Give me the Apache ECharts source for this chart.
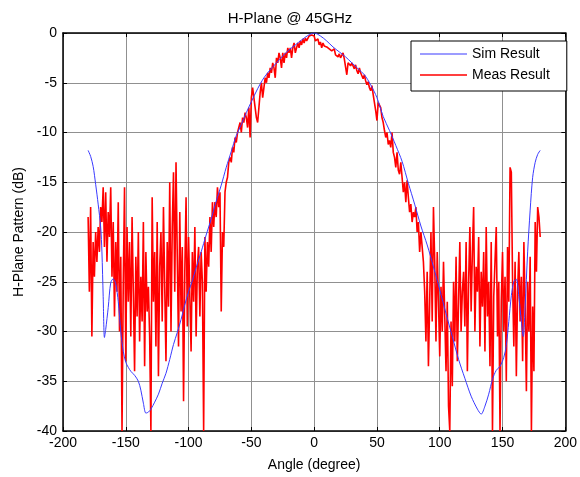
<!DOCTYPE html>
<html>
<head>
<meta charset="utf-8">
<script src="https://cdn.jsdelivr.net/npm/echarts@6/dist/echarts.min.js"></script>
<style>
html,body{margin:0;padding:0;background:#fff;}
#chart{width:580px;height:477px;}
</style>
</head>
<body>
<div id="chart"></div>
<script>
// ---- Data ----
var titleText = 'H-Plane @ 45GHz';
var xName = 'Angle (degree)';
var yName = 'H-Plane Pattern (dB)';
var xTicks = [-200, -150, -100, -50, 0, 50, 100, 150, 200];
var yTicks = [-40, -35, -30, -25, -20, -15, -10, -5, 0];

// Simulated result (angle, dB)
var simAngles = [-180,-178,-176,-174,-172,-170,-169,-168,-167,-166,-164,-162,-160,-158,-156,-154,-152,-150,-148,-146,-143,-140,-138,-136,-134,-132,-130,-127,-124,-121,-118,-115,-112,-109,-106,-103,-100,-97,-94,-90,-86,-82,-78,-74,-70,-66,-62,-58,-54,-50,-45,-40,-35,-30,-25,-20,-15,-10,-5,0,5,10,15,20,25,30,35,40,45,50,55,60,65,70,75,80,85,90,95,100,105,110,115,120,125,130,133,136,139,142,145,148,151,153,155,157,159,161,163,165,166.5,168,170,172,174,176,178,180];
var simValues = [-11.8,-12.4,-13.4,-15.2,-17.2,-19.5,-22,-26.5,-30.6,-29.8,-27.6,-25.1,-24.7,-25.2,-27,-30,-32,-33.1,-33.6,-34,-34.4,-35,-35.9,-37.2,-38.2,-38.1,-37.8,-37.1,-36.3,-35.2,-34.2,-32.8,-31.3,-30.1,-28.8,-27.3,-26,-24.9,-23.6,-22,-20.3,-18.7,-16.9,-15.3,-13.5,-11.9,-10.3,-9.2,-8,-6.9,-5.6,-4.5,-3.7,-3,-2.3,-1.7,-1.2,-0.7,-0.25,0,-0.3,-0.8,-1.4,-1.9,-2.4,-3,-3.6,-4.2,-5.2,-6.5,-8.4,-9.8,-11.3,-12.9,-15.1,-17.2,-19.4,-21.3,-23.5,-25.8,-28.2,-30.5,-32.8,-34.7,-36.5,-37.8,-38.3,-37.5,-36.3,-34.8,-33.9,-33.5,-32.6,-31.4,-29,-26.4,-25,-24.75,-26.5,-29,-30.5,-27.5,-22,-17.8,-14.5,-13,-12.2,-11.8];

// Measured result: one value per degree from -180 to 180
var measStart = -180;
var measValues = [
-18.5,-26.0,-17.5,-30.5,-21.0,-24.5,-20.0,-23.0,-19.5,-22.0,
-17.5,-19.0,-15.5,-21.5,-16.0,-23.0,-18.0,-20.5,-15.5,-24.5,
-19.0,-28.5,-21.0,-26.0,-17.0,-30.0,-22.5,-40.0,-25.0,-15.5,
-33.0,-19.5,-27.0,-21.0,-30.5,-18.5,-26.0,-34.0,-22.5,-28.5,
-20.0,-31.0,-24.5,-29.0,-19.0,-33.5,-22.0,-28.0,-25.5,-30.5,
-40.0,-16.5,-27.0,-22.0,-31.5,-19.0,-34.5,-23.5,-20.0,-29.0,
-17.5,-25.5,-33.0,-21.0,-27.5,-15.0,-30.0,-19.5,-14.0,-26.0,
-13.0,-22.5,-31.5,-18.0,-28.0,-21.5,-37.0,-24.0,-16.5,-29.5,
-20.5,-26.5,-32.0,-22.0,-27.0,-19.5,-30.5,-23.5,-21.5,-28.5,
-22.0,-25.0,-40.0,-20.5,-26.0,-21.0,-23.5,-18.5,-22.0,-17.0,
-19.5,-17.0,-18.5,-15.5,-17.5,-16.0,-28.0,-20.0,-21.5,-16.0,
-15.0,-14.5,-13.0,-12.5,-13.0,-11.5,-12.0,-10.5,-11.0,-10.0,
-9.5,-9.0,-10.0,-8.5,-9.0,-8.0,-8.5,-9.5,-7.5,-10.5,
-6.5,-5.5,-6.5,-7.5,-8.5,-9.0,-7.5,-6.0,-5.0,-6.5,
-5.5,-4.5,-5.0,-4.0,-4.5,-3.5,-4.0,-3.0,-3.5,-4.5,
-2.5,-3.0,-2.0,-2.5,-3.5,-2.0,-3.0,-2.0,-2.5,-1.5,
-2.0,-1.5,-2.5,-1.5,-1.0,-2.0,-1.5,-1.0,-1.5,-0.8,
-1.2,-0.6,-1.0,-0.5,-0.8,-1.0,-0.3,-0.5,-0.2,0.0,
-0.3,-0.8,-1.0,-0.6,-1.2,-0.9,-1.5,-1.0,-1.3,-1.1,
-1.4,-1.2,-1.6,-1.4,-1.8,-2.0,-1.6,-2.2,-2.0,-2.4,
-2.1,-2.5,-2.3,-2.0,-2.6,-2.8,-4.2,-3.0,-2.9,-3.3,
-3.0,-3.3,-3.6,-3.2,-3.8,-4.1,-3.5,-4.0,-4.3,-4.6,
-4.2,-4.8,-5.2,-4.9,-5.5,-5.8,-5.3,-6.2,-6.0,-7.8,
-8.8,-7.0,-6.8,-7.5,-8.5,-9.0,-9.8,-10.5,-10.0,-11.2,
-10.8,-11.5,-10.0,-12.0,-12.5,-13.5,-12.0,-13.8,-14.2,-13.0,
-14.5,-16.0,-15.0,-17.0,-14.8,-16.5,-18.0,-17.2,-19.0,-18.0,
-18.5,-17.5,-20.0,-19.0,-22.0,-20.0,-21.5,-23.0,-26.0,-31.0,
-24.0,-33.5,-27.0,-20.0,-29.0,-17.5,-23.0,-31.0,-22.0,-27.0,
-32.5,-25.5,-30.0,-23.0,-28.5,-34.0,-27.0,-37.5,-40.0,-29.0,
-35.5,-25.0,-31.0,-22.5,-33.0,-27.0,-21.0,-30.0,-26.0,-24.0,
-29.5,-21.0,-34.0,-25.0,-19.5,-28.0,-22.0,-17.5,-30.0,-23.5,
-26.0,-20.5,-31.5,-24.0,-27.5,-22.0,-32.0,-19.5,-28.5,-25.0,
-33.5,-21.0,-40.0,-26.5,-23.0,-19.5,-30.5,-25.0,-40.0,-27.0,
-22.0,-30.0,-24.5,-35.0,-21.5,-27.0,-13.5,-14.0,-25.0,-31.5,
-23.0,-34.5,-26.0,-22.0,-29.0,-24.5,-33.0,-21.0,-27.5,-36.0,
-25.0,-30.0,-22.5,-40.0,-27.5,-34.0,-19.0,-24.0,-17.5,-18.5,
-20.5
];

// ---- Build series data ----
var simData = simAngles.map(function (a, i) { return [a, simValues[i]]; });
var measData = measValues.map(function (v, i) { return [measStart + i, v]; });

var FONT = 'Liberation Sans, Arial, sans-serif';
var chart = echarts.init(document.getElementById('chart'), null, {renderer: 'canvas'});

// thin horizontal line icons (padded bounding box 47x14)
var simIcon = 'path://M0,0L0.01,0L0,0ZM0,6.5H47V7.5H0ZM0,14L0.01,14L0,14Z';
var measIcon = 'path://M0,0L0.01,0L0,0ZM0,6.2H47V7.8H0ZM0,14L0.01,14L0,14Z';

chart.setOption({
  backgroundColor: '#ffffff',
  animation: false,
  title: {
    text: titleText, left: 'center', top: 6,
    textStyle: {fontFamily: FONT, fontSize: 15, fontWeight: 'normal', color: '#000'}
  },
  grid: {left: 63, right: 9, top: 33, bottom: 44, containLabel: false},
  legend: {
    left: 411, top: 41, orient: 'vertical',
    backgroundColor: '#fff', borderColor: '#000', borderWidth: 1,
    padding: [6, 17, 9, 9], itemGap: 7, itemWidth: 47, itemHeight: 14,
    textStyle: {fontFamily: FONT, fontSize: 14, color: '#000', lineHeight: 14},
    data: [
      {name: 'Sim Result', icon: simIcon, itemStyle: {color: '#3a3aff'}},
      {name: 'Meas Result', icon: measIcon, itemStyle: {color: '#ff0000'}}
    ]
  },
  xAxis: [{
    type: 'value', position: 'bottom', min: -200, max: 200, interval: 50,
    name: xName, nameLocation: 'middle', nameGap: 27,
    nameTextStyle: {fontFamily: FONT, fontSize: 14, color: '#000'},
    axisLine: {onZero: false, lineStyle: {color: '#000', width: 1.5}},
    axisTick: {inside: true, length: 4, lineStyle: {color: '#000'}},
    axisLabel: {fontFamily: FONT, fontSize: 14, color: '#000', margin: 5,
      formatter: function (v) { return xTicks.indexOf(v) >= 0 ? String(v) : ''; }},
    splitLine: {show: true, lineStyle: {color: '#909090', width: 1}}
  }, {
    type: 'value', position: 'top', min: -200, max: 200, interval: 50,
    axisLine: {onZero: false, lineStyle: {color: '#000', width: 1.5}},
    axisTick: {inside: true, length: 4, lineStyle: {color: '#000'}},
    axisLabel: {show: false}, splitLine: {show: false}
  }],
  yAxis: [{
    type: 'value', position: 'left', min: -40, max: 0, interval: 5,
    name: yName, nameLocation: 'middle', nameGap: 37,
    nameTextStyle: {fontFamily: FONT, fontSize: 14, color: '#000'},
    axisLine: {show: true, onZero: false, lineStyle: {color: '#000', width: 1.5}},
    axisTick: {show: true, inside: true, length: 4, lineStyle: {color: '#000'}},
    axisLabel: {fontFamily: FONT, fontSize: 14, color: '#000', margin: 6,
      formatter: function (v) { return yTicks.indexOf(v) >= 0 ? String(v) : ''; }},
    splitLine: {show: true, lineStyle: {color: '#909090', width: 1}}
  }, {
    type: 'value', position: 'right', min: -40, max: 0, interval: 5,
    axisLine: {show: true, onZero: false, lineStyle: {color: '#000', width: 1.5}},
    axisTick: {show: true, inside: true, length: 4, lineStyle: {color: '#000'}},
    axisLabel: {show: false}, splitLine: {show: false}
  }],
  series: [{
    name: 'Sim Result', type: 'line', xAxisIndex: 0, yAxisIndex: 0,
    data: simData, symbol: 'none', smooth: 0.3,
    lineStyle: {color: '#3a3aff', width: 1},
    itemStyle: {color: '#3a3aff'}, z: 3
  }, {
    name: 'Meas Result', type: 'line', xAxisIndex: 0, yAxisIndex: 0,
    data: measData, symbol: 'none',
    lineStyle: {color: '#ff0000', width: 1.6},
    itemStyle: {color: '#ff0000'}, z: 2
  }]
});
</script>
</body>
</html>
